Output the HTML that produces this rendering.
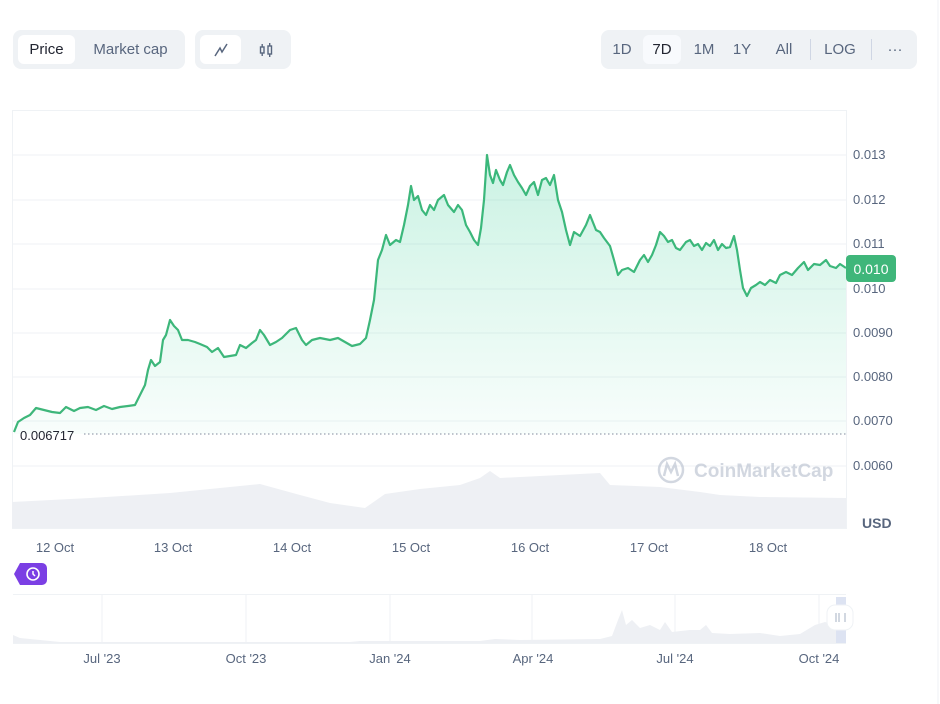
<!DOCTYPE html>
<html><head><meta charset="utf-8"><style>
body{margin:0;background:#fff;font-family:"Liberation Sans",sans-serif;}
.wrap{position:relative;width:940px;height:704px;overflow:hidden;}
.grp{position:absolute;top:30px;height:39px;background:#eff2f5;border-radius:8px;}
.btn{position:absolute;top:5px;height:29px;line-height:29px;font-size:15px;color:#58667e;text-align:center;}
.act{background:#fff;border-radius:6px;}
.act2{background:#f8fafd;border-radius:6px;}
.sep{position:absolute;top:9px;width:1px;height:21px;background:#cfd6e4;}
svg text{font-family:"Liberation Sans",sans-serif;}
</style></head><body><div class="wrap">
<div class="grp" style="left:13px;width:172px">
 <div class="btn act" style="left:5px;width:57px;color:#222531">Price</div>
 <div class="btn" style="left:70px;width:95px">Market cap</div>
</div>
<div class="grp" style="left:195px;width:96px">
 <div class="btn act" style="left:5px;width:41px"><svg width="16" height="16" viewBox="0 0 16 16" style="vertical-align:middle"><path d="M2 14 L7 6 L9 10 L14 2" stroke="#58667e" stroke-width="1.5" fill="none"/></svg></div>
 <div class="btn" style="left:52px;width:38px"><svg width="16" height="16" viewBox="0 0 16 16" style="vertical-align:middle"><g stroke="#58667e" stroke-width="1.4" fill="none"><rect x="2.5" y="5" width="3.5" height="6"/><rect x="10" y="4" width="3.5" height="8"/><path d="M4.2 2v3M4.2 11v3M11.7 1v3M11.7 12v3"/></g></svg></div>
</div>
<div class="grp" style="left:601px;width:316px">
 <div class="btn" style="left:7px;width:28px">1D</div>
 <div class="btn act2" style="left:42px;width:38px;color:#222531">7D</div>
 <div class="btn" style="left:88px;width:30px">1M</div>
 <div class="btn" style="left:128px;width:26px">1Y</div>
 <div class="btn" style="left:168px;width:30px">All</div>
 <div class="sep" style="left:209px"></div>
 <div class="btn" style="left:218px;width:42px">LOG</div>
 <div class="sep" style="left:270px"></div>
 <div class="btn" style="left:282px;width:24px">···</div>
</div>
<svg width="940" height="704" style="position:absolute;left:0;top:0">
<defs><linearGradient id="g" x1="0" y1="0" x2="0" y2="1"><stop offset="0" stop-color="#16c784" stop-opacity="0.25"/><stop offset="1" stop-color="#16c784" stop-opacity="0.03"/></linearGradient></defs>
<rect x="12.5" y="110.5" width="834" height="418" fill="none" stroke="#eff2f5"/>
<g stroke="#eff2f5" stroke-width="1">
<line x1="12" y1="155" x2="846" y2="155"/><line x1="12" y1="200" x2="846" y2="200"/><line x1="12" y1="244" x2="846" y2="244"/><line x1="12" y1="289" x2="846" y2="289"/><line x1="12" y1="333" x2="846" y2="333"/><line x1="12" y1="377" x2="846" y2="377"/><line x1="12" y1="421" x2="846" y2="421"/><line x1="12" y1="466" x2="846" y2="466"/>
</g>
<path d="M12 502 L90 498 L170 493 L200 490 L260 484 L300 495 L330 503 L365 508 L385 494 L420 489 L460 485 L480 478 L490 471 L500 478 L560 475 L600 473 L610 485 L660 487 L700 492 L720 495 L760 497 L846 498 L846 528 L12 528Z" fill="#eef0f4"/>
<path id="p" d="M14 432 L18 422 L24 418 L30 415 L36 408 L44 410 L52 412 L60 413 L66 407 L74 411 L80 408 L88 407 L96 410 L104 406 L112 409 L120 407 L128 406 L135 405 L140 395 L145 385 L148 370 L151 360 L155 366 L160 362 L163 340 L166 335 L170 320 L174 326 L178 330 L182 340 L188 340 L195 342 L200 344 L207 347 L212 352 L218 348 L224 357 L230 356 L236 355 L240 345 L246 348 L252 343 L256 340 L260 330 L264 335 L270 345 L276 342 L282 338 L290 330 L296 328 L302 340 L306 345 L312 340 L320 338 L330 340 L338 338 L345 342 L352 346 L360 344 L366 338 L370 320 L374 300 L378 260 L382 250 L386 235 L390 245 L396 240 L400 242 L404 225 L408 205 L411 186 L414 200 L418 196 L422 210 L426 215 L430 205 L434 210 L438 200 L444 195 L448 205 L454 212 L458 205 L462 210 L466 225 L470 232 L474 240 L478 245 L481 228 L484 200 L487 155 L490 175 L493 183 L496 170 L500 180 L503 185 L507 172 L510 165 L514 175 L518 182 L522 188 L526 195 L530 186 L534 182 L538 195 L542 180 L546 178 L550 185 L554 175 L558 200 L562 212 L566 230 L570 245 L574 232 L580 236 L586 225 L590 215 L596 230 L600 232 L604 238 L610 246 L614 260 L618 275 L622 270 L628 268 L634 272 L640 260 L644 255 L648 262 L652 255 L656 245 L660 232 L664 236 L668 242 L672 240 L676 248 L680 250 L686 242 L690 240 L694 246 L698 244 L702 250 L706 243 L710 246 L714 240 L718 250 L722 244 L726 248 L730 247 L734 236 L737 250 L740 270 L743 288 L747 296 L751 288 L756 285 L760 282 L765 285 L770 280 L776 283 L780 275 L786 272 L792 275 L798 268 L804 262 L808 270 L814 264 L820 265 L826 260 L830 266 L836 268 L840 264 L846 268" fill="none" stroke="#3fb67a" stroke-width="2.2" stroke-linejoin="round"/>
<path d="M14 432 L18 422 L24 418 L30 415 L36 408 L44 410 L52 412 L60 413 L66 407 L74 411 L80 408 L88 407 L96 410 L104 406 L112 409 L120 407 L128 406 L135 405 L140 395 L145 385 L148 370 L151 360 L155 366 L160 362 L163 340 L166 335 L170 320 L174 326 L178 330 L182 340 L188 340 L195 342 L200 344 L207 347 L212 352 L218 348 L224 357 L230 356 L236 355 L240 345 L246 348 L252 343 L256 340 L260 330 L264 335 L270 345 L276 342 L282 338 L290 330 L296 328 L302 340 L306 345 L312 340 L320 338 L330 340 L338 338 L345 342 L352 346 L360 344 L366 338 L370 320 L374 300 L378 260 L382 250 L386 235 L390 245 L396 240 L400 242 L404 225 L408 205 L411 186 L414 200 L418 196 L422 210 L426 215 L430 205 L434 210 L438 200 L444 195 L448 205 L454 212 L458 205 L462 210 L466 225 L470 232 L474 240 L478 245 L481 228 L484 200 L487 155 L490 175 L493 183 L496 170 L500 180 L503 185 L507 172 L510 165 L514 175 L518 182 L522 188 L526 195 L530 186 L534 182 L538 195 L542 180 L546 178 L550 185 L554 175 L558 200 L562 212 L566 230 L570 245 L574 232 L580 236 L586 225 L590 215 L596 230 L600 232 L604 238 L610 246 L614 260 L618 275 L622 270 L628 268 L634 272 L640 260 L644 255 L648 262 L652 255 L656 245 L660 232 L664 236 L668 242 L672 240 L676 248 L680 250 L686 242 L690 240 L694 246 L698 244 L702 250 L706 243 L710 246 L714 240 L718 250 L722 244 L726 248 L730 247 L734 236 L737 250 L740 270 L743 288 L747 296 L751 288 L756 285 L760 282 L765 285 L770 280 L776 283 L780 275 L786 272 L792 275 L798 268 L804 262 L808 270 L814 264 L820 265 L826 260 L830 266 L836 268 L840 264 L846 268 L846 434 L14 434Z" fill="url(#g)" opacity="0.9"/>
<line x1="84" y1="434" x2="846" y2="434" stroke="#808a9d" stroke-dasharray="1.5 2.5"/>
<text x="20" y="440" font-size="13" fill="#222531">0.006717</text>
<g font-size="13" fill="#58667e">
<text x="853" y="159">0.013</text><text x="853" y="204">0.012</text><text x="853" y="248">0.011</text><text x="853" y="293">0.010</text><text x="853" y="337">0.0090</text><text x="853" y="381">0.0080</text><text x="853" y="425">0.0070</text><text x="853" y="470">0.0060</text>
</g>
<rect x="846" y="255" width="50" height="27" rx="4" fill="#3fb67a"/>
<text x="871" y="274" font-size="14" fill="#fff" text-anchor="middle">0.010</text>
<text x="862" y="528" font-size="14" font-weight="bold" fill="#58667e">USD</text>
<g opacity="0.5"><circle cx="671" cy="470" r="12" fill="none" stroke="#a6b0c3" stroke-width="2.5"/><path d="M664 476 L667 464 L671 472 L675 464 L678 476" stroke="#a6b0c3" stroke-width="2.5" fill="none"/>
<text x="694" y="477" font-size="19" font-weight="bold" fill="#a6b0c3">CoinMarketCap</text></g>
<g font-size="13" fill="#58667e" text-anchor="middle">
<text x="55" y="552">12 Oct</text><text x="173" y="552">13 Oct</text><text x="292" y="552">14 Oct</text><text x="411" y="552">15 Oct</text><text x="530" y="552">16 Oct</text><text x="649" y="552">17 Oct</text><text x="768" y="552">18 Oct</text>
</g>
<path d="M14 574 L20 563 L42 563 A5 5 0 0 1 47 568 L47 580 A5 5 0 0 1 42 585 L20 585Z" fill="#7b3fe4"/>
<circle cx="33" cy="574" r="11" fill="#7b3fe4"/>
<circle cx="33" cy="574" r="6" fill="none" stroke="#fff" stroke-width="1.6"/><path d="M33 571 V574 L35 576" stroke="#fff" stroke-width="1.5" fill="none"/>
<line x1="13" y1="594.5" x2="846" y2="594.5" stroke="#eff2f5"/>
<g stroke="#eff2f5"><line x1="102" y1="595" x2="102" y2="643"/><line x1="246" y1="595" x2="246" y2="643"/><line x1="390" y1="595" x2="390" y2="643"/><line x1="532" y1="595" x2="532" y2="643"/><line x1="675" y1="595" x2="675" y2="643"/><line x1="819" y1="595" x2="819" y2="643"/></g>
<path d="M13 643 L13 635 L20 638 L60 642 L100 642 L350 642 L360 641 L480 641 L495 639 L520 640 L600 639 L612 636 L618 620 L622 610 L626 625 L632 620 L640 628 L650 625 L660 630 L665 622 L672 632 L690 630 L700 630 L706 625 L712 633 L730 634 L760 633 L780 636 L800 634 L815 625 L825 622 L835 625 L846 630 L846 643Z" fill="#eef0f4"/>
<rect x="836" y="597" width="10" height="46" fill="#dde3f2"/>
<rect x="827" y="605" width="26" height="25" rx="8" fill="#fff" stroke="#eff2f5"/>
<path d="M836 613 V622 M839 613 V622 M845 613 V622" stroke="#a6b0c3" stroke-width="1"/>
<line x1="13" y1="643.5" x2="846" y2="643.5" stroke="#eff2f5"/>
<g font-size="13" fill="#58667e" text-anchor="middle">
<text x="102" y="663">Jul '23</text><text x="246" y="663">Oct '23</text><text x="390" y="663">Jan '24</text><text x="533" y="663">Apr '24</text><text x="675" y="663">Jul '24</text><text x="819" y="663">Oct '24</text>
</g>
<line x1="938" y1="0" x2="938" y2="704" stroke="#eff2f5"/>
</svg>
</div></body></html>
